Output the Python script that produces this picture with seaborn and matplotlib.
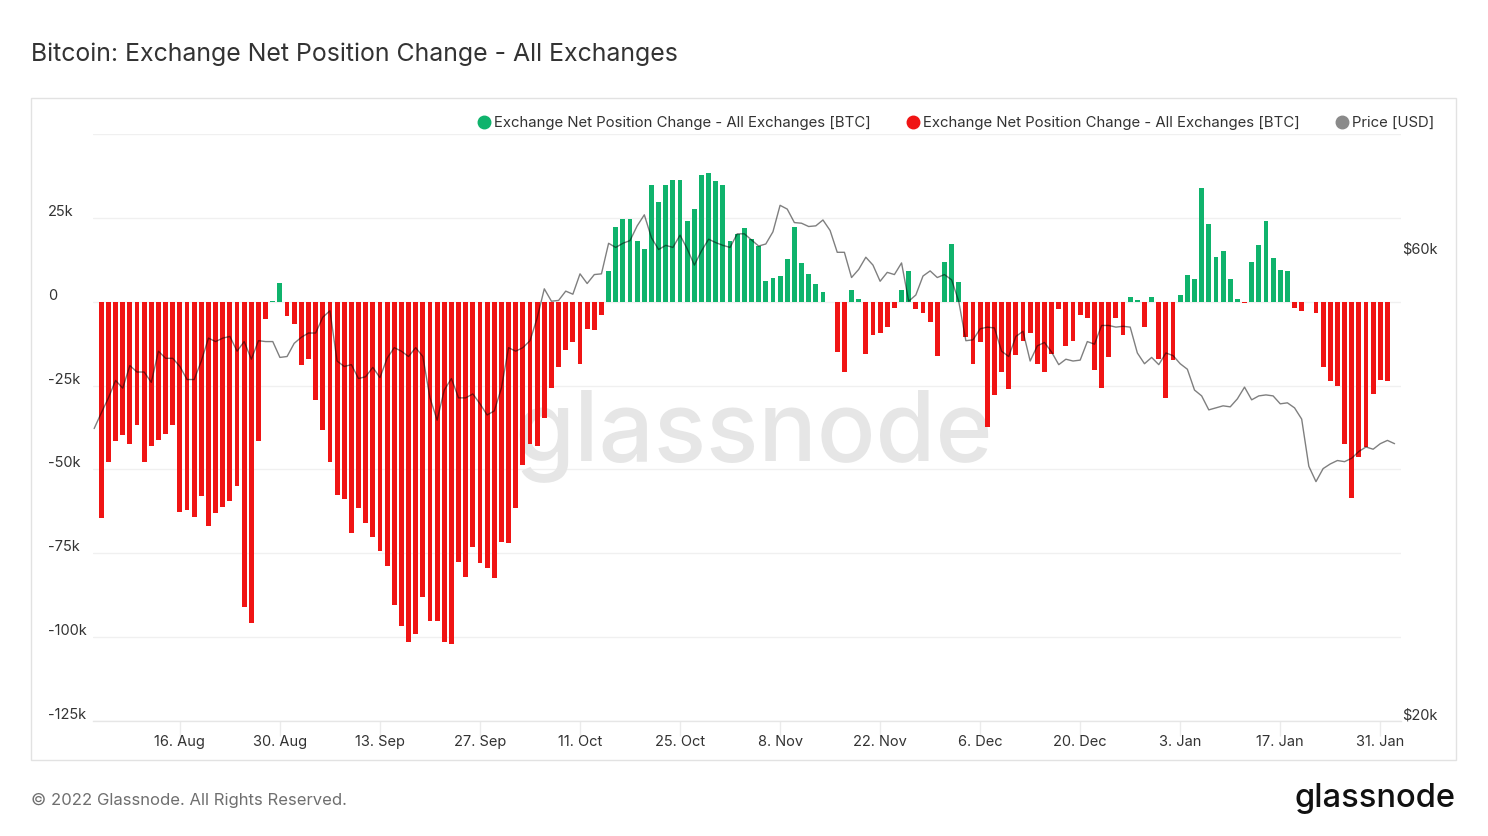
import matplotlib
matplotlib.use("Agg")
import matplotlib.pyplot as plt
import matplotlib.transforms as mtransforms
from matplotlib.patches import Rectangle
from matplotlib.lines import Line2D
import numpy as np
import pandas as pd
import seaborn as sns

# ---------------- data ----------------
bar_start = "2021-08-05"
net_change_k = [
    -64.6, -47.9, -41.6, -39.7, -42.3, -36.7, -47.9, -43.1, -41.2, -39.4,
    -36.7, -62.7, -62.0, -64.2, -57.9, -66.8, -63.1, -61.3, -59.3, -54.9,
    -91.0, -95.8, -41.6, -5.1, 0.3, 5.6, -4.3, -6.5, -18.8, -17.1,
    -29.3, -38.3, -47.9, -57.6, -58.7, -69.1, -61.6, -66.1, -70.2, -74.3,
    -78.8, -90.3, -96.6, -101.4, -99.1, -88.0, -95.1, -95.1, -101.4, -102.1,
    -77.6, -82.1, -73.2, -78.0, -79.4, -82.4, -71.7, -72.0, -61.6, -48.6,
    -42.4, -43.1, -34.8, -25.8, -19.6, -14.4, -12.1, -18.6, -8.1, -8.4,
    -4.0, 9.2, 22.2, 24.6, 24.6, 18.2, 15.6, 34.9, 29.8, 34.9,
    36.4, 36.4, 24.2, 27.6, 37.9, 38.3, 36.0, 34.9, 18.2, 20.1,
    21.9, 18.6, 16.6, 6.3, 7.0, 7.8, 12.6, 22.3, 11.5, 8.2,
    5.2, 2.9, 0.0, -15.1, -21.1, 3.6, 0.7, -15.6, -10.0, -9.2,
    -7.4, -1.8, 3.6, 9.2, -2.1, -3.3, -5.9, -16.1, 11.8, 17.1,
    5.9, -10.4, -18.6, -12.1, -37.4, -27.8, -21.1, -25.9, -15.9, -11.8,
    -9.2, -18.6, -21.1, -15.6, -2.2, -13.3, -11.6, -4.0, -4.8, -20.3,
    -25.6, -16.6, -4.8, -10.0, 1.4, 0.6, -7.4, 1.4, -17.1, -28.6,
    -17.4, 1.9, 7.9, 6.7, 33.8, 23.1, 13.4, 15.2, 6.7, 0.7,
    -0.3, 11.8, 16.8, 24.2, 13.0, 9.6, 9.2, -1.8, -2.9, 0.0,
    -3.3, -19.6, -23.6, -25.2, -42.4, -58.6, -46.4, -43.4, -27.4, -23.3,
    -23.7,
]

price_start = "2021-08-04"
price_k = [
    # Aug 4 - Aug 31
    39.9, 41.4, 42.9, 44.7, 43.9, 46.3, 45.6, 45.6, 44.5, 47.9,
    47.1, 47.1, 46.2, 44.8, 44.8, 46.8, 49.4, 49.0, 49.4, 49.6,
    47.9, 49.0, 47.0, 49.1, 49.0, 49.0, 47.2, 47.3,
    # Sep
    48.8, 49.5, 50.0, 50.0, 51.9, 52.7, 46.8, 46.2, 46.4, 44.9,
    45.1, 46.1, 45.0, 47.1, 48.3, 47.9, 47.3, 48.3, 47.3, 42.9,
    40.7, 43.7, 44.9, 42.9, 42.9, 43.3, 42.3, 41.2, 41.6, 43.9,
    # Oct
    48.3, 47.9, 48.3, 49.1, 51.8, 55.5, 53.9, 54.0, 55.2, 54.8,
    57.5, 56.2, 57.4, 57.5, 61.8, 61.2, 61.8, 62.2, 64.4, 66.1,
    62.6, 60.9, 61.5, 61.2, 63.0, 61.0, 58.7, 60.7, 62.4, 61.9, 61.5,
    # Nov
    61.2, 63.2, 63.2, 62.3, 61.4, 61.7, 63.5, 67.6, 67.0, 64.9,
    64.8, 64.3, 64.4, 65.3, 63.7, 60.5, 60.5, 57.0, 58.1, 59.8,
    58.7, 56.5, 57.7, 57.4, 59.0, 53.9, 54.7, 57.2, 57.9, 57.0,
    # Dec
    57.4, 56.7, 53.9, 49.1, 49.2, 50.5, 50.7, 50.6, 47.9, 47.3,
    49.6, 50.2, 46.8, 48.5, 48.9, 47.8, 46.4, 47.0, 46.8, 46.9,
    49.0, 48.7, 50.9, 50.9, 50.7, 50.8, 50.7, 47.7, 46.5, 47.2, 46.4,
    # Jan
    47.7, 47.4, 46.5, 45.9, 43.7, 43.1, 41.7, 41.9, 42.1, 42.0,
    42.8, 44.0, 42.7, 43.1, 43.2, 43.1, 42.3, 42.4, 41.9, 40.8,
    36.5, 35.2, 36.3, 36.7, 37.0, 36.9, 37.2, 37.8, 38.2, 38.0, 38.5,
    # Feb
    38.8, 38.5,
]

left_tick_values = [-125000, -100000, -75000, -50000, -25000, 0, 25000]
left_tick_labels = ["-125k", "-100k", "-75k", "-50k", "-25k", "0", "25k"]
right_tick_values = [20000, 60000]
right_tick_labels = ["$20k", "$60k"]
x_tick_dates = ["2021-08-16", "2021-08-30", "2021-09-13", "2021-09-27", "2021-10-11",
                "2021-10-25", "2021-11-08", "2021-11-22", "2021-12-06", "2021-12-20",
                "2022-01-03", "2022-01-17", "2022-01-31"]
x_tick_labels = ["16. Aug", "30. Aug", "13. Sep", "27. Sep", "11. Oct", "25. Oct",
                 "8. Nov", "22. Nov", "6. Dec", "20. Dec", "3. Jan", "17. Jan", "31. Jan"]

series_names = ["Exchange Net Position Change - All Exchanges [BTC]",
                "Exchange Net Position Change - All Exchanges [BTC]",
                "Price [USD]"]

GREEN = "#0fb36c"
RED = "#f01414"
GREY = "#8a8a8a"
TXT = "#333333"

# ---------------- frames ----------------
origin = pd.Timestamp(price_start)
bar_dates = pd.date_range(bar_start, periods=len(net_change_k), freq="D")
price_dates = pd.date_range(price_start, periods=len(price_k), freq="D")
bars = pd.DataFrame({
    "day": (bar_dates - origin).days.astype(float),
    "change": np.array(net_change_k) * 1000.0,
})
bars["sign"] = np.where(bars["change"] >= 0, "pos", "neg")
prices = pd.DataFrame({
    "day": (price_dates - origin).days.astype(float),
    "price": np.array(price_k) * 1000.0,
})
tick_days = [(pd.Timestamp(d) - origin).days for d in x_tick_dates]

# ---------------- figure ----------------
sns.set_theme(style="white")
plt.rcParams["font.family"] = ["Inter", "DejaVu Sans"]

W, H = 1488, 837
fig = plt.figure(figsize=(W / 100, H / 100), dpi=100)
fig.patch.set_facecolor("white")

def fx(px):
    return px / W

def fy(py):
    return 1 - py / H

# panel border
fig.add_artist(Rectangle((fx(31), fy(761)), fx(1456) - fx(31), fy(99) - fy(761),
                         transform=fig.transFigure, fill=False, ec="#e2e2e2", lw=1.0))

ax = fig.add_axes([fx(93), fy(722), fx(1401) - fx(93), fy(135) - fy(722)])
ax.set_facecolor("none")

# watermark behind bars
ax.text(fx(754), fy(460), "glassnode", transform=fig.transFigure, ha="center",
        va="baseline", fontsize=70, color="#e6e6e6", fontweight="medium", zorder=0.6)

sns.barplot(data=bars, x="day", y="change", hue="sign",
            palette={"pos": GREEN, "neg": RED}, native_scale=True, dodge=False,
            width=0.68, legend=False, saturation=1, linewidth=0, ax=ax)

ax.set_xlim(-0.16, 182.9)
ax.set_ylim(-125000, 50000)
ax.set_yticks(np.arange(-125000, 50001, 25000))
ax.yaxis.grid(True, color="#f0f0f0", lw=1.0)
ax.xaxis.grid(False)
ax.set_axisbelow(True)
ax.tick_params(axis="y", which="both", left=False, right=False, length=0,
               labelleft=False, labelright=False)
ax.set_xticks(tick_days)
ax.set_xticklabels(x_tick_labels)
ax.tick_params(axis="x", bottom=True, length=11, width=1, color="#ebebeb", pad=-1.5,
               labelsize=10.5, labelcolor=TXT)
ax.set_xlabel("")
ax.set_ylabel("")
for s in ["top", "left", "right"]:
    ax.spines[s].set_visible(False)
ax.spines["bottom"].set_color("#e6e6e6")
ax.spines["bottom"].set_linewidth(1.0)

# left labels (left aligned, sitting above gridlines)
trans_l = mtransforms.offset_copy(
    mtransforms.blended_transform_factory(fig.transFigure, ax.transData), fig=fig, y=7, units="dots")
for v, lab in zip(left_tick_values, left_tick_labels):
    ax.text(fx(48), v, lab, transform=trans_l, ha="left", va="center",
            fontsize=10.5, color=TXT)

# price line on a log axis
ax2 = ax.twinx()
ax2.set_facecolor("none")
sns.lineplot(data=prices, x="day", y="price", ax=ax2, color="black", alpha=0.5, lw=1.0)
ax2.set_yscale("log")
ax2.set_ylim(20000, 80000)
ax2.set_xlim(-0.16, 182.9)
ax2.grid(False)
ax2.set_yticks([])
ax2.minorticks_off()
ax2.tick_params(axis="y", which="both", left=False, right=False, length=0,
                labelleft=False, labelright=False)
ax2.set_ylabel("")
for s in ax2.spines.values():
    s.set_visible(False)

trans_r = mtransforms.offset_copy(
    mtransforms.blended_transform_factory(fig.transFigure, ax2.transData), fig=fig, y=7, units="dots")
for v, lab in zip(right_tick_values, right_tick_labels):
    ax2.text(fx(1402), v, lab, transform=trans_r, ha="left", va="center",
             fontsize=10.5, color=TXT)

# legend
legend_items = [(484, GREEN, series_names[0]), (913, RED, series_names[1]), (1342, GREY, series_names[2])]
for x0, col, name in legend_items:
    fig.add_artist(Line2D([fx(x0)], [fy(123)], transform=fig.transFigure, marker="o",
                          ms=9, color=col, mec=col, lw=0))
    fig.text(fx(x0 + 10), fy(123), name, ha="left", va="center", fontsize=10.75, color=TXT)

# title & footer
fig.text(fx(31), fy(54), "Bitcoin: Exchange Net Position Change - All Exchanges",
         ha="left", va="center", fontsize=17.9, color=TXT)
fig.text(fx(31), fy(800), "\u00a9 2022 Glassnode. All Rights Reserved.",
         ha="left", va="center", fontsize=12, color="#6f6f6f")
fig.text(fx(1456), fy(807), "glassnode", ha="right", va="baseline",
         fontsize=23.5, color="#111111", fontweight="medium")

fig.savefig("out.png", dpi=100, facecolor="white")
